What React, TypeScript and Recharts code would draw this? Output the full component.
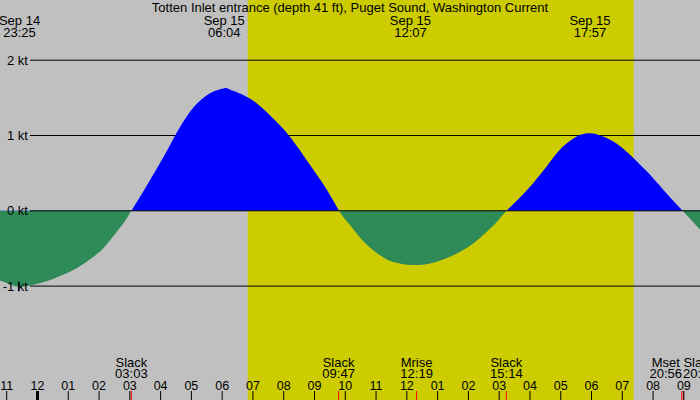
import React from "react";
import {
  ComposedChart,
  Area,
  XAxis,
  YAxis,
  ReferenceArea,
  ReferenceLine,
} from "recharts";

// ---- data (hours relative to Sep 15 00:00, speed in knots) ----
const hours = [
  -1.218, -1.0, -0.58, 0.0, 0.41, 1.0, 1.48, 2.0, 2.36, 2.75, 3.05, 3.66, 4.21,
  4.47, 4.86, 5.28, 5.7, 6.07, 6.25, 6.9, 7.55, 8.17, 8.85, 9.4, 9.8, 10.05,
  10.37, 10.7, 11.13, 11.56, 12.16, 12.75, 13.29, 13.83, 14.38, 14.92, 15.24,
  15.89, 16.54, 16.97, 17.41, 17.96, 18.71, 19.36, 20.01, 20.44, 20.96, 21.524,
];
const speeds = [
  -0.93, -0.96, -1.01, -0.97, -0.92, -0.82, -0.71, -0.55, -0.39, -0.19, 0.0,
  0.41, 0.8, 1.0, 1.26, 1.46, 1.58, 1.627, 1.61, 1.49, 1.27, 1.0, 0.61, 0.28,
  0.0, -0.14, -0.3, -0.45, -0.59, -0.68, -0.72, -0.7, -0.63, -0.52, -0.36,
  -0.15, 0.0, 0.27, 0.59, 0.81, 0.96, 1.03, 0.92, 0.7, 0.43, 0.23, 0.0, -0.25,
];

const hourTicks = [
  -1, 0, 1, 2, 3, 4, 5, 6, 7, 8, 9, 10, 11, 12, 13, 14, 15, 16, 17, 18, 19, 20,
  21,
];
const hourLabels = [
  "11", "12", "01", "02", "03", "04", "05", "06", "07", "08", "09", "10", "11",
  "12", "01", "02", "03", "04", "05", "06", "07", "08", "09",
];

const speedTicks = [2, 1, 0, -1];
const speedLabels = ["2 kt", "1 kt", "0 kt", "-1 kt"];

const extremeHours = [-0.583, 6.067, 12.117, 17.95];
const extremeDates = ["Sep 14", "Sep 15", "Sep 15", "Sep 15"];
const extremeTimes = ["23:25", "06:04", "12:07", "17:57"];

const eventHours = [3.05, 9.783, 12.317, 15.233, 20.933, 20.983];
const eventNames = ["Slack", "Slack", "Mrise", "Slack", "Mset", "Slack"];
const eventTimes = ["03:03", "09:47", "12:19", "15:14", "20:56", "20:59"];

const sunrise = 6.83;
const sunset = 19.37;
const markHour = -0.62;

const title =
  "Totten Inlet entrance (depth 41 ft), Puget Sound, Washington Current";

// ---- layout ----
const W = 700;
const H = 400;
const X_DOMAIN: [number, number] = [-1.218, 21.524];
const Y_DOMAIN: [number, number] = [-2.5126, 2.7995];
const FONT = "'Liberation Sans', Arial, Helvetica, sans-serif";
const GRAY = "#c0c0c0";
const YELLOW = "#cccc00";
const BLUE = "#0000ff";
const GREEN = "#2e8b57";
const LABEL_DX: Record<number, number> = { 4: -16, 5: 16 };

const data = hours.map((h, i) => ({ h, v: speeds[i] }));
const vMax = Math.max(...speeds);
const vMin = Math.min(...speeds);
const zeroOffset = vMax / (vMax - vMin);

const HourTick = (props: any) => {
  const { x, payload, index } = props;
  const isMidnight = payload.value === 0;
  return (
    <g>
      <line
        x1={x}
        x2={x}
        y1={H - 9}
        y2={H}
        stroke="#000"
        strokeWidth={isMidnight ? 3 : 1}
      />
      <text
        x={x}
        y={H - 10}
        textAnchor="middle"
        fontFamily={FONT}
        fontSize={12.5}
        fill="#000"
      >
        {hourLabels[index]}
      </text>
    </g>
  );
};

export default function App() {
  return (
    <div
      style={{
        position: "absolute",
        left: 0,
        top: 0,
        width: W,
        height: H,
        background: GRAY,
        overflow: "hidden",
      }}
    >
      <ComposedChart
        width={W}
        height={H + 1}
        data={data}
        margin={{ top: 0, right: 0, bottom: 0, left: 0 }}
      >
        <defs>
          <linearGradient id="flowFill" x1="0" y1="0" x2="0" y2="1">
            <stop offset={zeroOffset} stopColor={BLUE} />
            <stop offset={zeroOffset} stopColor={GREEN} />
          </linearGradient>
        </defs>
        <XAxis
          dataKey="h"
          type="number"
          domain={X_DOMAIN}
          allowDataOverflow
          ticks={hourTicks}
          interval={0}
          height={1}
          axisLine={false}
          tickLine={false}
          tickSize={0}
          tickMargin={0}
          tick={<HourTick />}
          zIndex={600}
        />
        <YAxis type="number" domain={Y_DOMAIN} allowDataOverflow hide />

        <ReferenceArea
          x1={sunrise}
          x2={sunset}
          fill={YELLOW}
          fillOpacity={1}
          stroke="none"
          zIndex={-200}
        />

        {speedTicks
          .filter((v) => v !== 0)
          .map((v) => (
            <ReferenceLine
              key={"g" + v}
              y={v}
              stroke="#000"
              zIndex={50}
              shape={(p: any) => (
                <line
                  x1={30}
                  x2={p.x2 ?? W}
                  y1={p.y1}
                  y2={p.y2}
                  stroke="#000"
                  strokeWidth={1}
                />
              )}
            />
          ))}

        <Area
          dataKey="v"
          type="natural"
          baseValue={0}
          stroke="none"
          fill="url(#flowFill)"
          fillOpacity={1}
          dot={false}
          activeDot={false}
          isAnimationActive={false}
          zIndex={100}
        />

        <ReferenceLine
          y={0}
          stroke="#000"
          zIndex={500}
          shape={(p: any) => (
            <line
              x1={30}
              x2={p.x2 ?? W}
              y1={p.y1}
              y2={p.y2}
              stroke="#000"
              strokeWidth={1}
            />
          )}
        />

        <ReferenceLine
          segment={[
            { x: markHour, y: -0.94 },
            { x: markHour, y: -1.07 },
          ]}
          stroke="#000"
          strokeWidth={1}
          zIndex={500}
        />

        {speedTicks.map((v, i) => (
          <ReferenceLine
            key={"yl" + v}
            y={v}
            stroke="none"
            zIndex={600}
            label={(p: any) => (
              <text
                x={28}
                y={p.viewBox.y + 4.5}
                textAnchor="end"
                fontFamily={FONT}
                fontSize={13}
                fill="#000"
              >
                {speedLabels[i]}
              </text>
            )}
          />
        ))}

        {extremeHours.map((h, i) => (
          <ReferenceLine
            key={"ex" + i}
            x={h}
            stroke="none"
            zIndex={600}
            label={(p: any) => (
              <g>
                <text
                  x={p.viewBox.x}
                  y={25}
                  textAnchor="middle"
                  fontFamily={FONT}
                  fontSize={13}
                  fill="#000"
                >
                  {extremeDates[i]}
                </text>
                <text
                  x={p.viewBox.x}
                  y={36.5}
                  textAnchor="middle"
                  fontFamily={FONT}
                  fontSize={13}
                  fill="#000"
                >
                  {extremeTimes[i]}
                </text>
              </g>
            )}
          />
        ))}

        {eventHours.map((h, i) => (
          <ReferenceLine
            key={"ev" + i}
            x={h}
            stroke="none"
            zIndex={700}
            label={(p: any) => {
              const x = p.viewBox.x;
              const cx = x + (LABEL_DX[i] ?? 0);
              return (
                <g>
                  <line
                    x1={x}
                    x2={x}
                    y1={H - 9}
                    y2={H}
                    stroke="#ff0000"
                    strokeWidth={1}
                  />
                  <text
                    x={cx}
                    y={366.5}
                    textAnchor="middle"
                    fontFamily={FONT}
                    fontSize={13}
                    fill="#000"
                  >
                    {eventNames[i]}
                  </text>
                  <text
                    x={cx}
                    y={377.5}
                    textAnchor="middle"
                    fontFamily={FONT}
                    fontSize={13}
                    fill="#000"
                  >
                    {eventTimes[i]}
                  </text>
                </g>
              );
            }}
          />
        ))}
      </ComposedChart>
      <div
        style={{
          position: "absolute",
          left: 0,
          top: 0,
          width: W,
          textAlign: "center",
          fontFamily: FONT,
          fontSize: 13,
          lineHeight: "15px",
          color: "#000",
          whiteSpace: "nowrap",
        }}
      >
        {title}
      </div>
    </div>
  );
}
